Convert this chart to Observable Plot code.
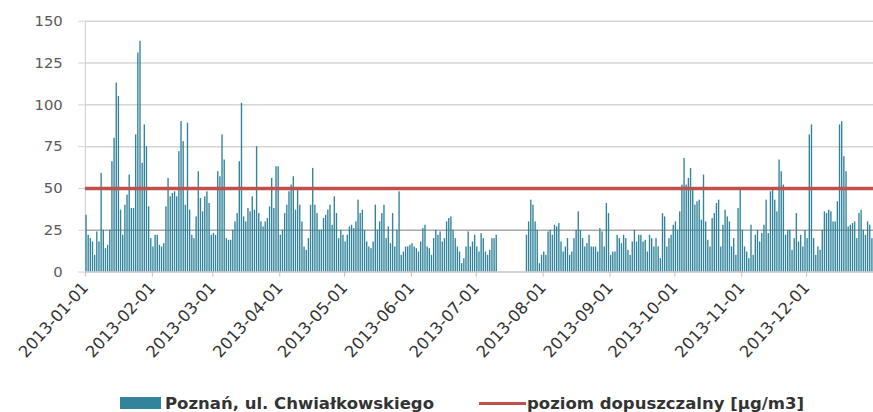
<!DOCTYPE html>
<html><head><meta charset="utf-8">
<script src="https://cdn.jsdelivr.net/npm/d3@7"></script>
<script src="https://cdn.jsdelivr.net/npm/@observablehq/plot@0.6"></script>
<style>
html,body{margin:0;padding:0;background:#fff;overflow:hidden;width:873px;height:412px;}
#wrap{position:relative;width:873px;height:412px;overflow:hidden;background:#fff;}
#chart{position:absolute;left:0;top:0;}
.leg{position:absolute;display:flex;align-items:center;height:20px;top:393px;font-family:"DejaVu Sans";font-weight:bold;font-size:16.5px;color:#333;white-space:nowrap;}
.sw{display:inline-block;width:41px;height:12px;background:#31849b;margin-right:4px;}
.ln{display:inline-block;width:47px;height:3px;background:#c0504d;margin-right:1px;}
</style></head><body>
<div id="wrap"><div id="chart"></div>
<div class="leg" id="leg1" style="left:120px"><span class="sw"></span><span id="t1"></span></div>
<div class="leg" id="leg2" style="left:479px"><span class="ln"></span><span id="t2"></span></div>
</div>
<script>
const seriesName = "Poznań, ul. Chwiałkowskiego";
const limitName = "poziom dopuszczalny [µg/m3]";
const limitValue = 50;
const startDate = "2013-01-01";
const jan = [34, 22, 20, 18, 10, 24, 18, 59, 25, 14, 16, 25, 66, 80, 113, 105, 37, 22, 40, 46, 58, 38, 38, 82, 131, 138, 65, 88, 75, 39, 20];
const feb = [15, 22, 22, 16, 15, 17, 39, 56, 45, 47, 48, 45, 72, 90, 78, 40, 89, 37, 22, 20, 33, 60, 44, 36, 45, 48, 41, 22];
const mar = [23, 22, 60, 57, 82, 67, 20, 19, 19, 25, 30, 35, 66, 101, 33, 30, 38, 36, 45, 37, 75, 35, 30, 27, 30, 32, 39, 56, 38, 63, 63];
const apr = [22, 25, 35, 40, 48, 52, 57, 37, 49, 40, 30, 15, 13, 20, 40, 62, 40, 35, 25, 25, 32, 34, 37, 40, 28, 45, 35, 20, 25, 22];
const may = [18, 22, 27, 28, 26, 30, 43, 35, 37, 25, 18, 15, 14, 18, 40, 25, 30, 35, 40, 20, 27, 17, 35, 15, 25, 48, 10, 12, 15, 15, 16];
const jun = [17, 15, 14, 12, 18, 26, 28, 15, 14, 10, 20, 25, 22, 24, 18, 20, 30, 32, 33, 25, 20, 15, 12, 5, 8, 15, 24, 15, 18, 22];
const jul = [15, 12, 23, 20, 12, 10, 13, 20, 20, 22, null, null, null, null, null, null, null, null, null, null, null, null, null, 22, 30, 43, 40, 30, 25, 5, 10];
const aug = [12, 10, 24, 25, 22, 28, 27, 29, 18, 12, 15, 20, 10, 12, 20, 25, 36, 25, 20, 15, 17, 22, 15, 15, 15, 12, 26, 24, 15, 41, 35];
const sep = [10, 12, 12, 22, 20, 17, 22, 20, 13, 10, 18, 25, 18, 22, 22, 18, 19, 12, 22, 20, 15, 20, 15, 8, 35, 33, 15, 20, 22, 28];
const oct = [30, 25, 36, 52, 68, 52, 56, 62, 50, 40, 42, 43, 31, 58, 30, 19, 15, 32, 35, 41, 43, 15, 28, 37, 33, 30, 15, 20, 10, 38, 49];
const nov = [25, 15, 12, 8, 28, 10, 22, 25, 18, 23, 28, 43, 23, 48, 50, 43, 36, 67, 60, 52, 22, 25, 25, 13, 20, 35, 18, 22, 15, 25];
const dec = [20, 82, 88, 20, 10, 15, 13, 25, 36, 35, 37, 36, 30, 30, 42, 88, 90, 69, 60, 27, 28, 29, 30, 20, 35, 37, 25, 22, 30, 28, 20];
const yTicks = [0, 25, 50, 75, 100, 125, 150];
const monthTicks = ["2013-01-01","2013-02-01","2013-03-01","2013-04-01","2013-05-01","2013-06-01","2013-07-01","2013-08-01","2013-09-01","2013-10-01","2013-11-01","2013-12-01"];

document.getElementById("t1").textContent = seriesName;
document.getElementById("t2").textContent = limitName;

const values = [].concat(jan, feb, mar, apr, may, jun, jul, aug, sep, oct, nov, dec);
const t0 = new Date(startDate + "T00:00:00Z");
const t1 = d3.utcDay.offset(t0, values.length);
const data = values.map((v, i) => ({date: d3.utcDay.offset(t0, i), value: v})).filter(d => d.value != null);

const plot = Plot.plot({
  width: 884, height: 385,
  marginLeft: 86, marginRight: 0, marginTop: 21, marginBottom: 110,
  x: {type: "utc", domain: [t0, t1], label: null},
  y: {domain: [0, 150], label: null},
  style: {fontFamily: "DejaVu Sans", fontSize: "15px", background: "white", color: "#404040"},
  marks: [
    Plot.ruleY(yTicks.filter(t => t > 0 && t !== 25), {stroke: "#d4d4d4", strokeWidth: 1.5}),
    Plot.ruleY(yTicks.filter(t => t === 25), {stroke: "#a8a8a8", strokeWidth: 1.5}),
    Plot.ruleX([t0], {stroke: "#d4d4d4", strokeWidth: 1.2}),
    Plot.rectY(data, {x1: "date", x2: d => d3.utcDay.offset(d.date, 1), y: "value", fill: "#31849b", insetLeft: 0.4, insetRight: 0.4}),
    Plot.ruleY([0], {stroke: "#c4c4c4", strokeWidth: 1.5}),
    Plot.ruleY([limitValue], {stroke: "#c0504d", strokeWidth: 3.5}),
    Plot.axisY({ticks: yTicks, tickSize: 7, tickPadding: 16, stroke: "#d4d4d4", fill: "#595959"}),
    Plot.axisX({ticks: monthTicks.map(s => new Date(s + "T00:00:00Z")), tickFormat: d3.utcFormat("%Y-%m-%d"), tickRotate: -48, tickSize: 5, tickPadding: 8, fontSize: 16.5, stroke: "#bfbfbf", fill: "#333"})
  ]
});
document.getElementById("chart").appendChild(plot);
</script>
</body></html>
